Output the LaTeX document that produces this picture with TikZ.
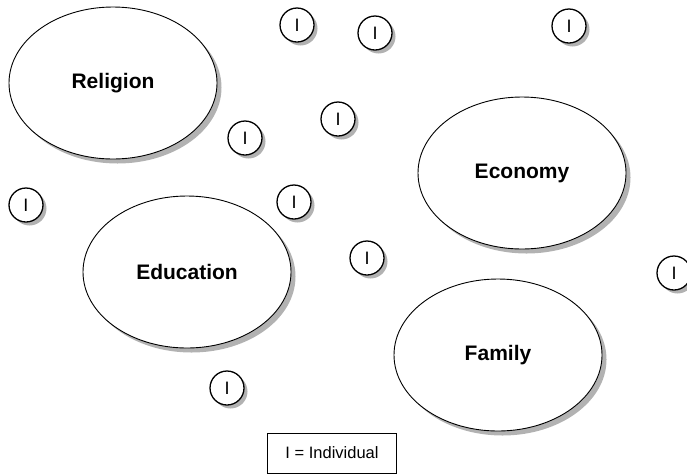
\documentclass[tikz,border=0pt]{standalone}
\usepackage{fontspec}
\setmainfont{Liberation Sans}
\usepackage{tikz}
\usetikzlibrary{shapes.geometric, shadows}
\tikzset{
	institution/.style = {ellipse, draw, fill = white, line width = 0.9pt,
		minimum width = 208pt, minimum height = 152pt, inner sep = 0pt,
		font = \fontsize{21}{24}\selectfont\bfseries,
		drop shadow = {shadow xshift = 4.5pt, shadow yshift = -4.5pt, fill = black!30, opacity = 1}},
	indiv/.style = {circle, draw, fill = white, line width = 1.3pt,
		minimum size = 34pt, inner sep = 0pt,
		font = \fontsize{18}{20}\selectfont,
		drop shadow = {shadow xshift = 3.5pt, shadow yshift = -3.5pt, fill = black!30, opacity = 1}},
	legend/.style = {rectangle, draw, line width = 0.8pt,
		minimum width = 129pt, minimum height = 40pt,
		font = \fontsize{16.5}{20}\selectfont}
}

\begin{document}
\begin{tikzpicture}[x = 1pt, y = -1pt]
		\clip (0,0) rectangle (687,475);
		% social institutions
		\node (rel) [institution] at (113,83) {Religion};
		\node (eco) [institution] at (522,173) {Economy};
		\node (edu) [institution] at (187,272) {Education};
		\node (fam) [institution] at (498,355) {Family};
		% individuals
		\node (i1) [indiv] at (297,25) {I};
		\node (i2) [indiv] at (375,33) {I};
		\node (i3) [indiv] at (569,26) {I};
		\node (i4) [indiv] at (338,119) {I};
		\node (i5) [indiv] at (245,138) {I};
		\node (i6) [indiv] at (26,205) {I};
		\node (i7) [indiv] at (294,202) {I};
		\node (i8) [indiv] at (367,258) {I};
		\node (i9) [indiv] at (674,273) {I};
		\node (i10) [indiv] at (227,388) {I};
		% key
		\node (key) [legend] at (332,453) {I = Individual};
	\end{tikzpicture}
\end{document}
